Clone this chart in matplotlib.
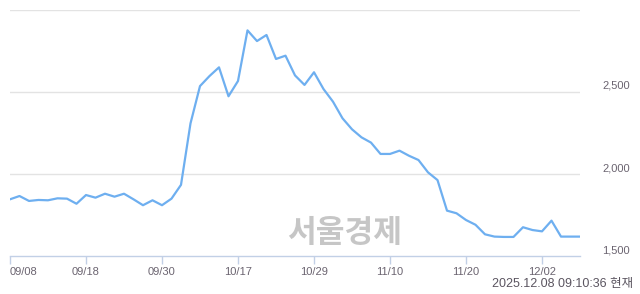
import matplotlib.pyplot as plt

# daily prices
prices = [1845, 1865, 1835, 1841, 1839, 1851, 1849, 1818, 1871, 1855,
          1879, 1861, 1879, 1845, 1809, 1839, 1809, 1849, 1933, 2307,
          2534, 2595, 2648, 2472, 2565, 2873, 2808, 2845, 2699, 2719,
          2599, 2541, 2618, 2516, 2439, 2338, 2271, 2222, 2190, 2121,
          2121, 2141, 2110, 2084, 2009, 1962, 1776, 1760, 1719, 1690,
          1632, 1618, 1616, 1616, 1675, 1658, 1650, 1715, 1618, 1618,
          1618]
tick_idx = [0, 8, 16, 24, 32, 40, 48, 56]
tick_labels = ['09/08', '09/18', '09/30', '10/17', '10/29', '11/10', '11/20', '12/02']
y_ticks = [1500, 2000, 2500]
y_labels = ['1,500', '2,000', '2,500']

plt.rcParams['font.family'] = ['Liberation Sans', 'Noto Sans CJK KR', 'DejaVu Sans']

fig = plt.figure(figsize=(6.4, 2.94), dpi=100)
ax = fig.add_axes([10 / 640, 38 / 294, 570 / 640, 246.5 / 294])

# grid lines
for v in [2000, 2500, 3000]:
    ax.axhline(v, color='#e3e3e3', linewidth=1, zorder=1)

ax.plot(range(len(prices)), prices, color='#6eaff0', linewidth=1.6, zorder=3)

ax.set_xlim(0, len(prices) - 1)
ax.set_ylim(1500, 3000)
for s in ['top', 'left', 'right']:
    ax.spines[s].set_visible(False)
ax.spines['bottom'].set_color('#c2d0e6')
ax.spines['bottom'].set_linewidth(1)

ax.set_xticks(tick_idx)
ax.set_xticklabels(tick_labels)
ax.tick_params(axis='x', colors='#c2d0e6', length=6, width=1, labelcolor='#6b6470',
               labelsize=8, pad=2)
ax.get_xticklabels()[0].set_ha('left')

# price labels on the right, sitting a little above their grid lines
ax.set_yticks([])
for v, lab in zip(y_ticks, y_labels):
    ax.text(1.0877, v + 35, lab, transform=ax.get_yaxis_transform(), ha='right',
            va='center', fontsize=8, color='#6b6470')

# watermark
fig.text(345 / 640, 1 - 233 / 294, '서울경제', ha='center', va='center', fontsize=22.5,
         fontweight='bold', color='#c6c6c6', family=['Noto Sans CJK KR'])

fig.text(633 / 640, 1 - 284 / 294, '2025.12.08 09:10:36 현재', ha='right', va='center',
         fontsize=9, color='#5b5560')

fig.savefig('out.png', dpi=100)
